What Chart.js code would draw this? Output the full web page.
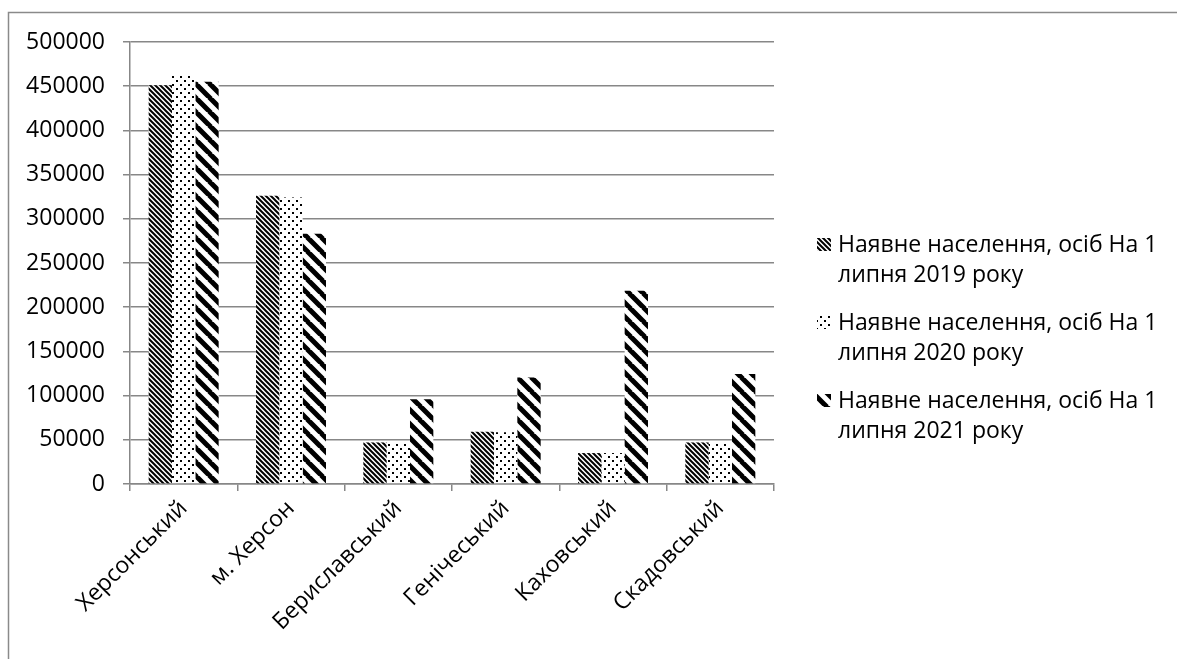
<!DOCTYPE html>
<html>
<head>
<meta charset="utf-8">
<script src="https://cdn.jsdelivr.net/npm/chart.js@4.4.1/dist/chart.umd.min.js"></script>
<style>
  html, body { margin: 0; padding: 0; background: #fff; }
  #wrap { position: relative; width: 1177px; height: 659px; }
</style>
</head>
<body>
<div id="wrap"><canvas id="c" width="1177" height="659"></canvas></div>
<script>
// Districts of Kherson oblast
const categories = ['Херсонський', 'м. Херсон', 'Бериславський', 'Генічеський', 'Каховський', 'Скадовський'];

// Population present, persons, as of 1 July
const pop2019 = [451000, 326000, 47000, 59000, 35000, 47000];
const pop2020 = [463500, 324000, 47000, 58500, 35000, 46500];
const pop2021 = [455000, 283000, 96000, 120500, 218700, 124500];

// Series names, split into the two legend lines
const series2019 = ['Наявне населення, осіб На 1', 'липня 2019 року'];
const series2020 = ['Наявне населення, осіб На 1', 'липня 2020 року'];
const series2021 = ['Наявне населення, осіб На 1', 'липня 2021 року'];

// Value axis ticks
const yMin = 0;
const yMax = 500000;
const yStep = 50000;

const FONT = '"Open Sans", "Noto Sans", sans-serif';
const FONT_SIZE = 23;
const GRID = '#878787';

// Monochrome hatch fills
function stripePattern(period, width) {
  const c = document.createElement('canvas');
  c.width = period; c.height = period;
  const g = c.getContext('2d');
  g.fillStyle = '#fff'; g.fillRect(0, 0, period, period);
  g.strokeStyle = '#000'; g.lineWidth = width;
  g.beginPath();
  for (const k of [-period, 0, period]) {
    g.moveTo(k - 1, -1);
    g.lineTo(k + period + 1, period + 1);
  }
  g.stroke();
  return g.createPattern(c, 'repeat');
}
function dotPattern() {
  const c = document.createElement('canvas');
  c.width = 8; c.height = 8;
  const g = c.getContext('2d');
  g.fillStyle = '#fff'; g.fillRect(0, 0, 8, 8);
  g.fillStyle = '#000';
  g.fillRect(0, 0, 2, 2);
  g.fillRect(4, 4, 2, 2);
  return g.createPattern(c, 'repeat');
}

const fill2019 = stripePattern(5, 2);
const fill2020 = dotPattern();
const fill2021 = stripePattern(14, 5);

// Frame around the whole chart
const framePlugin = {
  id: 'frame',
  beforeDraw(chart) {
    const ctx = chart.ctx;
    ctx.save();
    ctx.fillStyle = '#fff';
    ctx.fillRect(0, 0, chart.width, chart.height);
    ctx.strokeStyle = '#8a8a8a';
    ctx.lineWidth = 1.5;
    ctx.beginPath();
    ctx.moveTo(8.5, chart.height + 2);
    ctx.lineTo(8.5, 12.5);
    ctx.lineTo(chart.width + 2, 12.5);
    ctx.stroke();
    ctx.restore();
  }
};

// Legend on the right with wrapped labels
const sideLegend = {
  id: 'sideLegend',
  afterDraw(chart) {
    const ctx = chart.ctx;
    ctx.save();
    ctx.font = FONT_SIZE + 'px ' + FONT;
    ctx.textAlign = 'left';
    ctx.textBaseline = 'alphabetic';
    chart.data.datasets.forEach((ds, i) => {
      const base = 252 + i * 78;
      ctx.fillStyle = ds.backgroundColor;
      ctx.fillRect(817, base - 14, 14, 13);
      ctx.fillStyle = '#000';
      ds.legendLines.forEach((line, j) => {
        ctx.fillText(line, 838, base + j * 30);
      });
    });
    ctx.restore();
  }
};

new Chart(document.getElementById('c'), {
  type: 'bar',
  data: {
    labels: categories,
    datasets: [
      { label: series2019.join(' '), legendLines: series2019, data: pop2019, backgroundColor: fill2019 },
      { label: series2020.join(' '), legendLines: series2020, data: pop2020, backgroundColor: fill2020 },
      { label: series2021.join(' '), legendLines: series2021, data: pop2021, backgroundColor: fill2021 }
    ]
  },
  options: {
    responsive: false,
    animation: false,
    devicePixelRatio: 1,
    layout: { padding: { left: 0, top: 42, right: 403, bottom: 0 } },
    datasets: { bar: { categoryPercentage: 0.652, barPercentage: 1.0, borderWidth: 0 } },
    plugins: {
      legend: { display: false },
      tooltip: { enabled: false }
    },
    scales: {
      x: {
        grid: { offset: true, drawOnChartArea: false, drawTicks: true, tickLength: 7, color: GRID, lineWidth: 1.5 },
        border: { color: GRID, width: 1.5 },
        ticks: { maxRotation: 45, minRotation: 45, padding: 4, color: '#000', font: { family: FONT, size: FONT_SIZE } },
        afterFit(scale) { scale.height = 175; }
      },
      y: {
        min: yMin,
        max: yMax,
        grid: { color: GRID, lineWidth: 1.5, tickLength: 7, drawTicks: true },
        border: { color: GRID, width: 1.5 },
        ticks: {
          stepSize: yStep,
          padding: 18,
          color: '#000',
          font: { family: FONT, size: FONT_SIZE },
          callback: (v) => String(v)
        },
        afterFit(scale) { scale.width = 130; }
      }
    }
  },
  plugins: [framePlugin, sideLegend]
});
</script>
</body>
</html>
